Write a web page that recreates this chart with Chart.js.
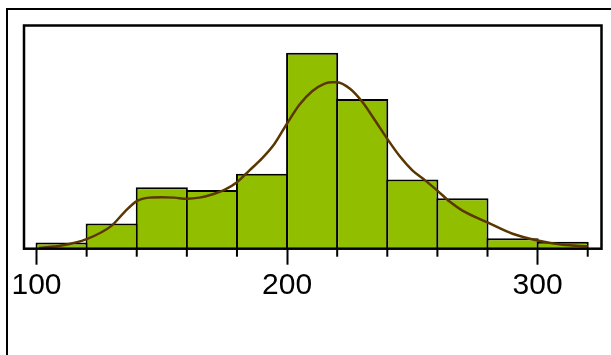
<!DOCTYPE html>
<html>
<head>
<meta charset="utf-8">
<script src="https://cdn.jsdelivr.net/npm/chart.js@4/dist/chart.umd.min.js"></script>
<style>
  html, body { margin: 0; padding: 0; background: #fff; overflow: hidden; }
  body { width: 611px; height: 355px; position: relative; }
  #frame { position: absolute; left: 6px; top: 8px; width: 700px; height: 400px; border: 2px solid #000; }
  #c { position: absolute; left: 0; top: 0; }
</style>
</head>
<body>
<div id="frame"></div>
<canvas id="c" width="611" height="355"></canvas>
<script>
// Histogram bins (centres, width 20) and their heights (% of observations)
const binCenters = [110, 130, 150, 170, 190, 210, 230, 250, 270, 290, 310];
const binHeights = [0.9, 3.6, 8.8, 8.4, 10.7, 28.0, 21.4, 9.9, 7.2, 1.5, 1.0];

// Smoothed density curve, same vertical units
const curveX = [101, 110, 120, 130, 135, 140, 145, 150, 155, 160, 165, 170, 175, 180, 185, 190, 195, 200, 205, 210, 215, 218, 220, 225, 230, 235, 240, 245, 250, 255, 260, 265, 270, 280, 290, 300, 310, 320];
const curveY = [0.1, 0.45, 1.37, 3.3, 5.2, 6.8, 7.3, 7.36, 7.3, 7.14, 7.3, 7.75, 8.4, 9.5, 11.2, 12.9, 15.0, 17.9, 20.6, 22.5, 23.6, 23.8, 23.8, 22.9, 21.0, 18.4, 15.7, 13.2, 11.2, 9.8, 8.3, 6.7, 5.45, 3.76, 2.14, 1.18, 0.56, 0.34];

// Axis ticks
const majorTicks = [100, 200, 300];
const tickLabels = ['100', '200', '300'];
const minorTicks = [120, 140, 160, 180, 220, 240, 260, 280, 320];

const barData = binCenters.map((x, i) => ({ x: x, y: binHeights[i] }));
const curveData = curveX.map((x, i) => ({ x: x, y: curveY[i] }));

// Frame around the plotting area
const boxPlugin = {
  id: 'plotBox',
  afterDatasetsDraw(chart) {
    const a = chart.chartArea, ctx = chart.ctx;
    ctx.save();
    ctx.strokeStyle = '#000';
    ctx.lineWidth = 2.5;
    ctx.strokeRect(a.left, a.top, a.right - a.left, a.bottom - a.top);
    ctx.restore();
  }
};

// Short tick marks between the labelled ones
const minorTickPlugin = {
  id: 'minorTicks',
  afterDraw(chart) {
    const s = chart.scales.x, ctx = chart.ctx;
    ctx.save();
    ctx.strokeStyle = '#000';
    ctx.lineWidth = 2;
    minorTicks.forEach(v => {
      const px = s.getPixelForValue(v);
      ctx.beginPath();
      ctx.moveTo(px, s.top);
      ctx.lineTo(px, s.top + 8);
      ctx.stroke();
    });
    ctx.restore();
  }
};

new Chart(document.getElementById('c'), {
  data: {
    datasets: [
      {
        type: 'line',
        data: curveData,
        borderColor: '#5a3700',
        borderWidth: 2.5,
        pointRadius: 0,
        cubicInterpolationMode: 'monotone',
        fill: false,
        order: 0
      },
      {
        type: 'bar',
        data: barData,
        backgroundColor: '#92be00',
        borderColor: '#000',
        borderWidth: 2,
        categoryPercentage: 1,
        barPercentage: 1.04,
        order: 1
      }
    ]
  },
  options: {
    responsive: false,
    animation: false,
    layout: { padding: { left: 24, top: 25.5, right: 9.5, bottom: 48.3 } },
    plugins: { legend: { display: false }, tooltip: { enabled: false } },
    scales: {
      x: {
        type: 'linear',
        offset: false,
        min: 95,
        max: 325.5,
        afterBuildTicks: s => { s.ticks = majorTicks.map(v => ({ value: v })); },
        ticks: {
          callback: (v, i) => tickLabels[i],
          font: { family: 'Liberation Sans', size: 30 },
          color: '#000',
          padding: 3,
          maxRotation: 0,
          autoSkip: false
        },
        grid: { offset: false, drawOnChartArea: false, tickLength: 16, tickWidth: 2, tickColor: '#000' },
        border: { display: false }
      },
      y: {
        display: false,
        min: 0,
        max: 31.9
      }
    }
  },
  plugins: [boxPlugin, minorTickPlugin]
});
</script>
</body>
</html>
